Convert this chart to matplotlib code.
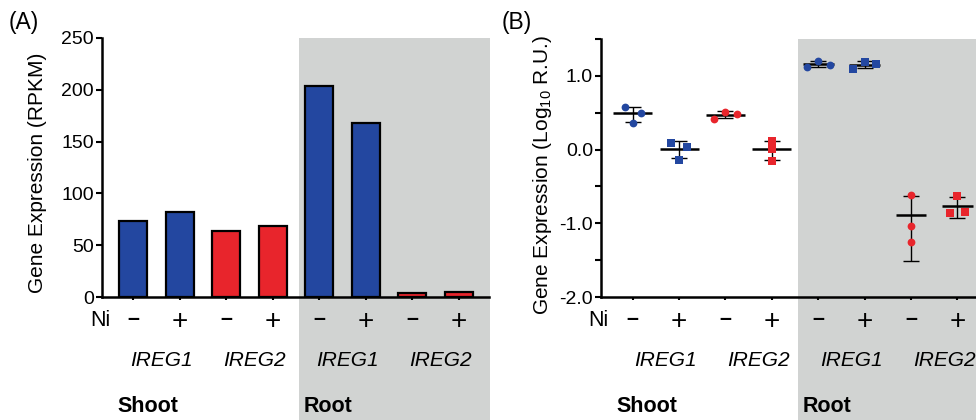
import numpy as np
import matplotlib.pyplot as plt
from matplotlib.patches import Rectangle

plt.rcParams['font.family'] = ['Liberation Sans', 'DejaVu Sans']
plt.rcParams['mathtext.fontset'] = 'custom'
plt.rcParams['mathtext.rm'] = 'Liberation Sans'

BLUE = '#2347a0'
RED = '#e8252c'
GREY = '#d1d3d2'

ni_labels = ['–', '+'] * 4
genes = ['IREG1', 'IREG2', 'IREG1', 'IREG2']
tissues = ['Shoot', 'Root']
column_colors = [BLUE, BLUE, RED, RED, BLUE, BLUE, RED, RED]
column_markers = ['o', 's'] * 4

# (A) RNA-seq expression, RPKM
rpkm = [73, 82, 64, 69, 204, 168, 4, 5]

# (B) qPCR, log10 relative units, replicates listed left to right in each column
qpcr_shoot_ireg1_minus = [0.575, 0.366, 0.502]
qpcr_shoot_ireg1_plus = [0.095, -0.136, 0.041]
qpcr_shoot_ireg2_minus = [0.417, 0.512, 0.484]
qpcr_shoot_ireg2_plus = [0.118, 0.010, -0.149]
qpcr_root_ireg1_minus = [1.126, 1.199, 1.149]
qpcr_root_ireg1_plus = [1.099, 1.190, 1.167]
qpcr_root_ireg2_minus = [-0.611, -1.039, -1.252]
qpcr_root_ireg2_plus = [-0.855, -0.624, -0.841]
qpcr = [qpcr_shoot_ireg1_minus, qpcr_shoot_ireg1_plus,
        qpcr_shoot_ireg2_minus, qpcr_shoot_ireg2_plus,
        qpcr_root_ireg1_minus, qpcr_root_ireg1_plus,
        qpcr_root_ireg2_minus, qpcr_root_ireg2_plus]

root_start = 3.56
x = np.arange(8)


def spread(vals, gap=0.10):
    # how far apart to place replicate points, depending on how many overlap
    n = 0
    for i in range(len(vals)):
        for j in range(i + 1, len(vals)):
            if abs(vals[i] - vals[j]) < gap:
                n += 1
    if n == 0:
        return 0.0
    if n == len(vals):
        return 0.25
    return 0.17


def style_axes(ax, xmax):
    ax.set_facecolor('none')
    ax.set_xlim(right=xmax)
    for side in ['top', 'right']:
        ax.spines[side].set_visible(False)
    for side in ['left', 'bottom']:
        ax.spines[side].set_linewidth(1.8)
    ax.tick_params(axis='y', direction='out', length=4.3, width=1.5, pad=1.5,
                   labelsize=14)
    ax.tick_params(axis='x', direction='out', length=2.5, width=1.5, labelbottom=False)
    ax.set_xticks(x)
    ax.add_patch(Rectangle((root_start, -0.6), xmax - root_start + 0.02, 1.6,
                           transform=ax.get_xaxis_transform(),
                           color=GREY, lw=0, zorder=0, clip_on=False))


def under_labels(ax, gene_dx):
    lab = dict(xycoords=('data', 'axes fraction'), textcoords='offset pixels',
               ha='center', va='center', annotation_clip=False)
    ax.annotate('Ni', xy=(0, 0), xycoords='axes fraction', xytext=(8, -24),
                textcoords='offset pixels', ha='right', va='center', fontsize=15.5)
    for i, s in enumerate(ni_labels):
        if s == '+':
            ax.annotate(s, xy=(i, 0), xytext=(0, -25), fontsize=20, **lab)
        else:
            ax.annotate(s, xy=(i, 0), xytext=(0, -23), fontsize=15.5, fontweight='bold', **lab)
    for k, g in enumerate(genes):
        ax.annotate(g, xy=(2 * k + 0.5, 0), xytext=(gene_dx, -63), fontsize=15,
                    style='italic', **lab)
    for k, t in enumerate(tissues):
        ax.annotate(t, xy=(4 * k, 0), xycoords=('data', 'axes fraction'),
                    xytext=(-16, -110), textcoords='offset pixels', ha='left',
                    va='center', fontsize=15.5, fontweight='bold', annotation_clip=False)


fig = plt.figure(figsize=(9.76, 4.2), dpi=100)

# (A)
axA = fig.add_axes([102 / 976, 123 / 420, 387 / 976, 259 / 420])
axA.set_xlim(-0.666, 7.645)
style_axes(axA, 7.645)
axA.bar(x, rpkm, width=0.6, color=column_colors, edgecolor='black', linewidth=1.6, zorder=2)
axA.set_ylim(0, 250)
axA.set_yticks([0, 50, 100, 150, 200, 250])
under_labels(axA, 5)
fig.text(38 / 976, 1 - 173 / 420, 'Gene Expression (RPKM)', rotation=90,
         ha='center', va='center', fontsize=15)
fig.text(24 / 976, 1 - 22 / 420, '(A)', ha='center', va='center', fontsize=16.5)

# (B)
axB = fig.add_axes([601 / 976, 123 / 420, 375 / 976, 258 / 420])
axB.set_xlim(-0.683, 7.40)
style_axes(axB, 7.40)
axB.set_ylim(-2, 1.5)
axB.set_yticks(np.arange(-2, 1.51, 0.5))
axB.set_yticklabels(['-2.0', '', '-1.0', '', '0.0', '', '1.0', ''])
for i, vals in enumerate(qpcr):
    vals = np.array(vals)
    lin = 10 ** vals
    m = lin.mean()
    sd = lin.std(ddof=1)
    mean_log = np.log10(m)
    lo = np.log10(m - sd)
    hi = np.log10(m + sd)
    half = 0.42 if i < 4 else 0.33
    axB.plot([i - half, i + half], [mean_log, mean_log], color='black', lw=1.8,
             zorder=3, solid_capstyle='butt')
    axB.errorbar(i, mean_log, yerr=[[mean_log - lo], [hi - mean_log]], fmt='none',
                 ecolor='black', elinewidth=1.0, capsize=6, capthick=1.0, zorder=3)
    w = spread(vals)
    offs = [-w, 0, w]
    axB.plot(i + np.array(offs), vals, linestyle='none', marker=column_markers[i],
             markersize=5.6, color=column_colors[i], markeredgewidth=0, zorder=4,
             clip_on=False)
under_labels(axB, 10)
fig.text(543 / 976, 1 - 175 / 420, r'Gene Expression (Log$_{\mathregular{10}}$ R.U.)',
         rotation=90, ha='center', va='center', fontsize=15)
fig.text(517 / 976, 1 - 23 / 420, '(B)', ha='center', va='center', fontsize=16.5)

fig.savefig('out.png', dpi=100)
